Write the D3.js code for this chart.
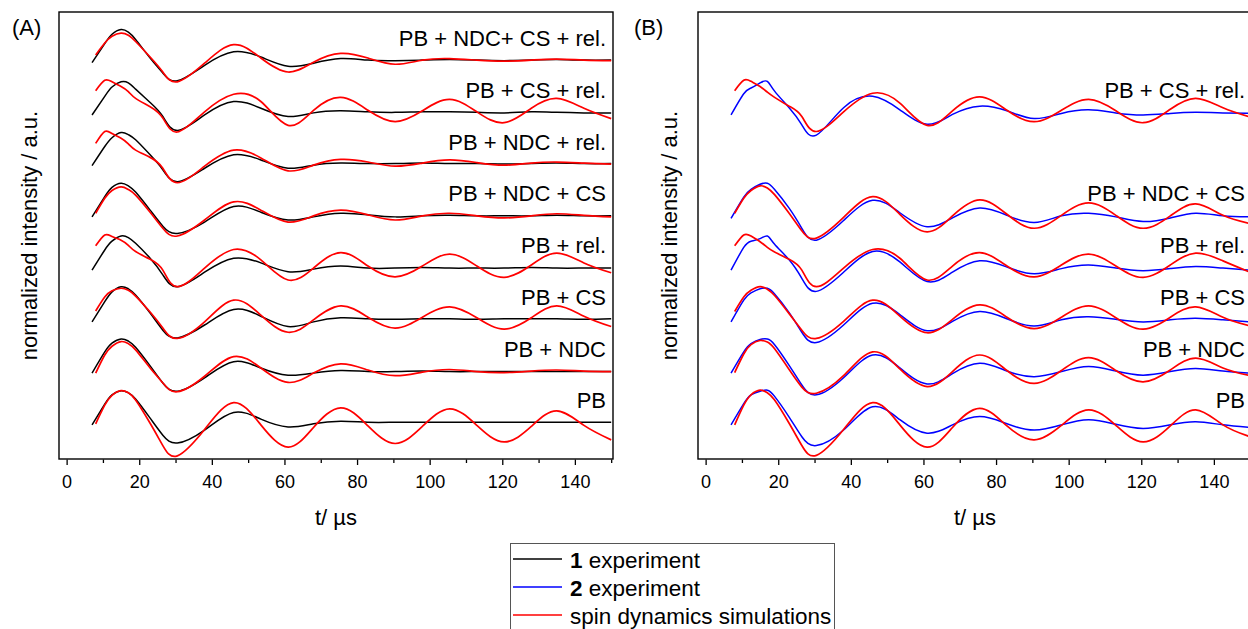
<!DOCTYPE html>
<html>
<head>
<meta charset="utf-8">
<script src="https://cdn.jsdelivr.net/npm/d3@7"></script>
<style>
  body { margin: 0; background: #fff; }
  svg { display: block; font-family: "Liberation Sans", Arial, sans-serif; }
</style>
</head>
<body>
<div class="container"></div>
<script>
const tExp = [7, 10.5, 12.5, 15, 17, 19, 23, 26.5, 30.5, 38, 46, 53.5, 61, 68, 75.5, 83, 90.5, 98, 105.5, 113, 120.5, 128, 135, 142.5, 150];
const tSim = [8, 10.5, 12.5, 15, 17, 19, 23, 26.5, 30.5, 38, 46, 53.5, 61, 68, 75.5, 83, 90.5, 98, 105.5, 113, 120.5, 128, 135, 142.5, 150];
const majorTicks = [0, 20, 40, 60, 80, 100, 120, 140];
const minorTicks = [10, 30, 50, 70, 90, 110, 130, 150];

// panel A (top to bottom)
const labelsA = ["PB + NDC+ CS + rel.", "PB + CS + rel.", "PB + NDC + rel.", "PB + NDC + CS", "PB + rel.", "PB + CS", "PB + NDC", "PB"];
const offsetsA = [7, 6, 5, 4, 3, 2, 1, 0];
const expA = [
  [-0.05, 0.32, 0.50, 0.59, 0.54, 0.40, 0.04, -0.25, -0.40, -0.10, 0.16, 0.06, -0.12, -0.06, 0.03, 0.00, -0.01, 0.00, 0.01, 0.00, -0.01, 0.00, 0.01, 0.00, 0.00],
  [-0.06, 0.30, 0.48, 0.58, 0.56, 0.44, 0.18, -0.09, -0.36, -0.06, 0.20, 0.07, -0.09, -0.02, 0.02, 0.00, -0.01, 0.00, 0.00, -0.01, -0.02, 0.00, -0.01, -0.02, -0.02],
  [-0.04, 0.33, 0.50, 0.60, 0.56, 0.46, 0.17, -0.12, -0.35, -0.09, 0.17, 0.07, -0.09, -0.03, 0.01, 0.00, 0.00, 0.01, 0.00, 0.00, -0.01, 0.00, 0.01, 0.00, 0.00],
  [-0.03, 0.36, 0.54, 0.62, 0.57, 0.45, 0.10, -0.21, -0.35, -0.13, 0.17, 0.06, -0.09, -0.03, 0.04, 0.01, -0.03, -0.01, 0.00, -0.01, -0.01, -0.01, 0.00, -0.01, -0.01],
  [-0.06, 0.33, 0.50, 0.60, 0.57, 0.46, 0.17, -0.15, -0.38, -0.10, 0.17, 0.08, -0.09, -0.04, 0.02, -0.02, -0.02, -0.01, -0.02, -0.02, -0.02, -0.01, -0.02, -0.02, -0.02],
  [-0.06, 0.33, 0.52, 0.62, 0.58, 0.46, 0.11, -0.22, -0.37, -0.12, 0.18, 0.05, -0.15, -0.06, 0.02, 0.00, -0.01, 0.00, 0.00, -0.01, 0.00, 0.00, 0.00, -0.01, 0.00],
  [-0.05, 0.36, 0.53, 0.61, 0.57, 0.45, 0.09, -0.24, -0.40, -0.14, 0.17, 0.05, -0.09, -0.05, 0.00, -0.02, -0.02, -0.01, -0.02, -0.02, -0.02, -0.02, -0.02, -0.02, -0.02],
  [-0.05, 0.35, 0.53, 0.61, 0.57, 0.45, 0.08, -0.25, -0.40, -0.15, 0.19, 0.06, -0.09, -0.03, 0.02, 0.00, 0.00, 0.00, 0.00, 0.00, 0.00, 0.00, 0.00, 0.00, 0.00]
];
const simA = [
  [0.10, 0.33, 0.46, 0.52, 0.48, 0.36, 0.06, -0.23, -0.42, -0.06, 0.30, 0.04, -0.23, -0.04, 0.13, 0.04, -0.08, 0.00, 0.03, 0.00, -0.02, 0.00, 0.02, 0.00, -0.01],
  [0.41, 0.61, 0.58, 0.49, 0.39, 0.26, 0.10, -0.12, -0.39, 0.00, 0.34, 0.20, -0.26, 0.03, 0.28, 0.03, -0.19, 0.02, 0.24, 0.00, -0.21, 0.07, 0.26, 0.07, -0.13],
  [0.39, 0.62, 0.58, 0.49, 0.38, 0.26, 0.12, -0.09, -0.37, -0.05, 0.26, 0.11, -0.14, -0.03, 0.08, 0.03, -0.05, 0.01, 0.07, 0.02, -0.03, 0.01, 0.03, 0.01, -0.01],
  [0.04, 0.33, 0.48, 0.55, 0.50, 0.39, 0.06, -0.25, -0.40, -0.09, 0.26, 0.10, -0.13, -0.01, 0.10, 0.01, -0.09, -0.01, 0.04, -0.01, -0.05, -0.01, 0.03, 0.00, -0.03],
  [0.41, 0.62, 0.59, 0.52, 0.42, 0.30, 0.15, -0.06, -0.38, -0.02, 0.34, 0.14, -0.25, -0.02, 0.28, 0.02, -0.19, 0.02, 0.25, 0.02, -0.20, 0.04, 0.27, 0.08, -0.11],
  [0.15, 0.42, 0.54, 0.59, 0.55, 0.44, 0.13, -0.18, -0.38, -0.06, 0.36, 0.07, -0.26, -0.02, 0.25, 0.03, -0.18, 0.03, 0.23, 0.02, -0.20, 0.02, 0.25, 0.05, -0.15],
  [-0.05, 0.30, 0.47, 0.56, 0.52, 0.40, 0.05, -0.24, -0.41, -0.11, 0.27, 0.05, -0.23, -0.05, 0.13, 0.01, -0.10, -0.03, 0.02, -0.02, -0.04, -0.01, 0.01, -0.01, -0.02],
  [-0.03, 0.33, 0.52, 0.61, 0.57, 0.43, -0.02, -0.45, -0.65, -0.14, 0.38, -0.05, -0.48, -0.10, 0.28, -0.07, -0.41, -0.08, 0.26, -0.06, -0.38, -0.08, 0.22, -0.06, -0.34]
];

// panel B (top to bottom)
const labelsB = ["PB + CS + rel.", "PB + NDC + CS", "PB + rel.", "PB + CS", "PB + NDC", "PB"];
const offsetsB = [6, 4, 3, 2, 1, 0];
const expB = [
  [-0.06, 0.35, 0.46, 0.56, 0.59, 0.40, 0.08, -0.25, -0.45, 0.08, 0.30, 0.04, -0.24, -0.05, 0.11, 0.02, -0.13, -0.03, 0.04, -0.02, -0.06, -0.03, -0.01, -0.02, -0.03],
  [-0.06, 0.35, 0.50, 0.60, 0.62, 0.50, 0.14, -0.25, -0.48, -0.10, 0.29, 0.05, -0.22, -0.05, 0.14, 0.00, -0.14, -0.01, 0.04, -0.03, -0.12, -0.05, 0.04, -0.01, -0.03],
  [-0.06, 0.38, 0.50, 0.55, 0.60, 0.44, 0.14, -0.22, -0.47, -0.10, 0.30, 0.10, -0.28, -0.10, 0.12, 0.00, -0.13, -0.03, 0.04, -0.02, -0.07, -0.03, 0.01, -0.02, -0.06],
  [-0.06, 0.36, 0.50, 0.58, 0.59, 0.48, 0.12, -0.26, -0.46, -0.12, 0.30, 0.08, -0.23, -0.05, 0.14, 0.00, -0.14, -0.02, 0.04, -0.01, -0.06, -0.02, 0.01, -0.02, -0.06],
  [-0.05, 0.36, 0.52, 0.60, 0.61, 0.50, 0.10, -0.28, -0.47, -0.14, 0.30, 0.05, -0.26, -0.06, 0.14, -0.01, -0.12, -0.02, 0.08, -0.01, -0.09, -0.02, 0.04, -0.01, -0.05],
  [-0.05, 0.36, 0.53, 0.60, 0.62, 0.50, 0.10, -0.28, -0.45, -0.15, 0.30, 0.05, -0.21, -0.05, 0.11, -0.03, -0.15, -0.05, 0.05, -0.04, -0.12, -0.05, 0.01, -0.05, -0.10]
];
const simB = [
  [0.41, 0.61, 0.59, 0.49, 0.38, 0.28, 0.11, -0.09, -0.38, 0.00, 0.36, 0.17, -0.26, 0.02, 0.29, 0.03, -0.19, 0.03, 0.24, 0.02, -0.21, 0.05, 0.26, 0.08, -0.10],
  [0.04, 0.33, 0.48, 0.57, 0.53, 0.40, 0.04, -0.30, -0.44, -0.04, 0.36, 0.02, -0.32, -0.01, 0.30, 0.02, -0.25, 0.00, 0.24, 0.00, -0.25, -0.01, 0.22, 0.00, -0.16],
  [0.41, 0.62, 0.60, 0.49, 0.38, 0.29, 0.15, -0.06, -0.38, -0.02, 0.34, 0.17, -0.25, 0.02, 0.28, 0.02, -0.19, 0.04, 0.25, 0.02, -0.20, 0.04, 0.27, 0.12, -0.10],
  [0.14, 0.42, 0.55, 0.62, 0.57, 0.45, 0.10, -0.22, -0.38, -0.05, 0.36, 0.05, -0.27, -0.01, 0.27, 0.03, -0.19, 0.03, 0.25, 0.02, -0.20, 0.03, 0.23, 0.03, -0.14],
  [-0.04, 0.32, 0.50, 0.58, 0.55, 0.42, 0.02, -0.32, -0.44, -0.10, 0.36, 0.03, -0.31, -0.02, 0.30, 0.00, -0.25, 0.00, 0.25, 0.00, -0.22, 0.01, 0.24, 0.05, -0.10],
  [-0.05, 0.33, 0.53, 0.62, 0.57, 0.43, -0.02, -0.45, -0.64, -0.14, 0.38, -0.05, -0.48, -0.10, 0.27, -0.07, -0.34, -0.06, 0.24, -0.06, -0.38, -0.07, 0.24, -0.05, -0.28]
];

const legendItems = [
  { num: "1", text: " experiment", color: "#000000" },
  { num: "2", text: " experiment", color: "#0000ff" },
  { num: "", text: "spin dynamics simulations", color: "#ff0000" }
];

const width = 1248;
const height = 629;
const plotW = 554;
const plotTop = 12;
const plotBottom = 459;
const simColor = "#ff0000";

const svg = d3.select(".container")
  .append("svg")
  .attr("width", width)
  .attr("height", height);

svg.append("rect").attr("width", width).attr("height", height).attr("fill", "#fff");

const panels = [
  { letter: "(A)", left: 59, letterX: 12, titleX: 36.5, labels: labelsA, offsets: offsetsA, exp: expA, sim: simA, expColor: "#000000" },
  { letter: "(B)", left: 698, letterX: 634, titleX: 677, labels: labelsB, offsets: offsetsB, exp: expB, sim: simB, expColor: "#0000ff" }
];

panels.forEach(p => drawPanel(p));

function drawPanel(p) {
  const x = d3.scaleLinear().domain([-2.1, 150.5]).range([p.left, p.left + plotW]);
  const y = d3.scaleLinear().domain([-0.71, 7.93]).range([plotBottom, plotTop]);

  const g = svg.append("g");

  //traces
  p.exp.forEach((vals, i) => {
    const off = p.offsets[i];
    const line = d3.line()
      .x((d, j) => x(tExp[j]))
      .y(d => y(off + d))
      .curve(d3.curveNatural);
    g.append("path")
      .attr("d", line(vals))
      .attr("fill", "none")
      .attr("stroke", p.expColor)
      .attr("stroke-width", 1.5);
  });

  p.sim.forEach((vals, i) => {
    const off = p.offsets[i];
    const line = d3.line()
      .x((d, j) => x(tSim[j]))
      .y(d => y(off + d))
      .curve(d3.curveNatural);
    g.append("path")
      .attr("d", line(vals))
      .attr("fill", "none")
      .attr("stroke", simColor)
      .attr("stroke-width", 1.7);
  });

  //curve labels
  g.selectAll(".curve-label")
    .data(p.labels)
    .enter()
    .append("text")
    .attr("x", p.left + plotW - 7)
    .attr("y", (d, i) => y(p.offsets[i] + 0.27))
    .attr("text-anchor", "end")
    .style("font-size", "22px")
    .text(d => d);

  //frame
  g.append("rect")
    .attr("x", p.left)
    .attr("y", plotTop)
    .attr("width", plotW)
    .attr("height", plotBottom - plotTop)
    .attr("fill", "none")
    .attr("stroke", "#000")
    .attr("stroke-width", 1.4);

  //x axis
  const ax = g.append("g")
    .attr("transform", `translate(0, ${plotBottom + 0.5})`)
    .call(d3.axisBottom(x).tickValues(majorTicks).tickSize(5.5).tickPadding(10.5));
  ax.select(".domain").remove();
  ax.selectAll(".tick line").attr("stroke", "#000").attr("stroke-width", 1.3);
  ax.selectAll(".tick text")
    .style("font-size", "18px")
    .style("font-family", "'Liberation Sans', Arial, sans-serif")
    .attr("fill", "#000");

  const axm = g.append("g")
    .attr("transform", `translate(0, ${plotBottom + 0.5})`)
    .call(d3.axisBottom(x).tickValues(minorTicks).tickSize(3.5).tickFormat(""));
  axm.select(".domain").remove();
  axm.selectAll(".tick line").attr("stroke", "#000").attr("stroke-width", 1.3);

  //axis titles
  g.append("text")
    .attr("x", p.left + plotW / 2)
    .attr("y", 525)
    .attr("text-anchor", "middle")
    .style("font-size", "22px")
    .text("t/ µs");

  g.append("text")
    .attr("transform", `translate(${p.titleX}, ${(plotTop + plotBottom) / 2}) rotate(-90)`)
    .attr("text-anchor", "middle")
    .style("font-size", "22px")
    .text("normalized intensity / a.u.");

  //panel letter
  g.append("text")
    .attr("x", p.letterX)
    .attr("y", 35)
    .style("font-size", "22px")
    .text(p.letter);
}

//legend
const legend = svg.append("g");
legend.append("rect")
  .attr("x", 510.5)
  .attr("y", 543.5)
  .attr("width", 324)
  .attr("height", 120)
  .attr("fill", "#fff")
  .attr("stroke", "#555")
  .attr("stroke-width", 1);

legendItems.forEach((d, i) => {
  const ly = 559 + i * 28;
  legend.append("line")
    .attr("x1", 513)
    .attr("x2", 562)
    .attr("y1", ly)
    .attr("y2", ly)
    .attr("stroke", d.color)
    .attr("stroke-width", i === 2 ? 1.6 : 1.3);
  const t = legend.append("text")
    .attr("x", 570)
    .attr("y", ly + 8.5)
    .style("font-size", "22.5px");
  if (d.num) t.append("tspan").style("font-weight", "bold").text(d.num);
  t.append("tspan").text(d.text);
});
</script>
</body>
</html>
